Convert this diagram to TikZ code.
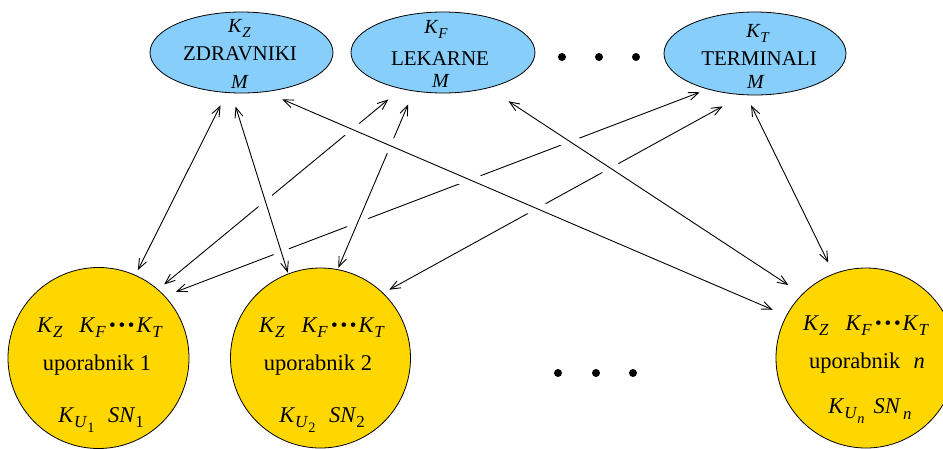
\documentclass[tikz,border=0pt]{standalone}
\usepackage{fontspec}
\setmainfont{Liberation Serif}
\usepackage{graphicx}
\usetikzlibrary{shapes.geometric,arrows.meta}
\pgfdeclarelayer{bg}
\pgfsetlayers{bg,main}
\definecolor{skyb}{RGB}{135,206,250}
\definecolor{goldy}{RGB}{255,215,0}
\newcommand{\ks}[1]{\textit{K}\raisebox{-0.26em}{\scalebox{0.75}{\textit{#1}}}}
\newcommand{\kus}[1]{\textit{K}\raisebox{-0.26em}{\scalebox{0.75}{\textit{U}\raisebox{-0.3em}{\scalebox{0.85}{#1}}}}}
\newcommand{\bul}{\raisebox{0.04em}{\makebox[0.42em]{\scalebox{0.85}{\textbullet}}}}
\newcommand{\kdots}{\ks{Z}\hspace{0.75em}\ks{F}\hspace{0.08em}\bul\bul\bul\hspace{0.02em}\ks{T}}
\begin{document}
\begin{tikzpicture}[x=1pt,y=-1pt,
  grp/.style={ellipse, draw, fill=skyb, line width=0.8pt, minimum width=183pt, minimum height=81pt, inner sep=0pt},
  usr/.style={circle, draw, fill=goldy, line width=0.8pt, minimum size=181pt, inner sep=0pt},
  utxt/.style={anchor=base, inner sep=0pt, font=\fontsize{22.5}{27}\selectfont},
  gname/.style={anchor=base, inner sep=0pt, font=\fontsize{21}{25}\selectfont},
  gsym/.style={anchor=base, inner sep=0pt, font=\fontsize{20}{24}\selectfont},
  bigdot/.style={circle, fill=black, minimum size=8pt, inner sep=0pt},
  link/.style={{Straight Barb[length=10pt,width=8pt]}-{Straight Barb[length=10pt,width=8pt]}, line width=0.9pt},
  halo/.style={preaction={draw=white, line width=16pt, -}}
]
\useasboundingbox (0,0) rectangle (943,448);
\clip (0,0) rectangle (943,448);

% top groups
\node[grp] (zd) at (241.5,52.5) {};
\node[grp, minimum width=184pt] (lk) at (443,52.5) {};
\node[grp, minimum width=182pt, minimum height=83pt] (tm) at (755,53.5) {};

\node[gsym] (zdk) at (239.5,32) {\ks{Z}};
\node[gname] (zdn) at (240,60) {ZDRAVNIKI};
\node[gsym] (zdm) at (240,88) {\textit{M}};
\node[gsym] (lkk) at (436,33) {\ks{F}};
\node[gname] (lkn) at (440,65) {LEKARNE};
\node[gsym] (lkm) at (441,87) {\textit{M}};
\node[gsym] (tmk) at (758,37) {\ks{T}};
\node[gname] (tmn) at (759,65) {TERMINALI};
\node[gsym] (tmm) at (756,88) {\textit{M}};

\node[bigdot] (td1) at (562,57) {};
\node[bigdot] (td2) at (599,57) {};
\node[bigdot] (td3) at (636,57) {};

% users
\node[usr] (u1) at (98.5,358) {};
\node[usr, minimum size=180pt] (u2) at (320.5,358) {};
\node[usr, minimum size=180pt] (un) at (866,358) {};

\node[utxt] (u1a) at (100,332) {\kdots};
\node[utxt] (u1b) at (97,370) {uporabnik 1};
\node[utxt] (u1c) at (101,422) {\kus{1}\hspace{0.6em}\textit{SN}\raisebox{-0.26em}{\scalebox{0.75}{1}}};
\node[utxt] (u2a) at (322,332) {\kdots};
\node[utxt] (u2b) at (318,370) {uporabnik 2};
\node[utxt] (u2c) at (322,422) {\kus{2}\hspace{0.6em}\textit{SN}\raisebox{-0.26em}{\scalebox{0.75}{2}}};
\node[utxt] (una) at (866,330) {\kdots};
\node[utxt] (unb) at (867,368) {uporabnik\hspace{0.6em}\textit{n}};
\node[utxt] (unc) at (870,413) {\kus{\textit{n}}\hspace{0.4em}\textit{SN}\hspace{0.1em}\raisebox{-0.3em}{\scalebox{0.75}{\textit{n}}}};

\node[bigdot] (bd1) at (558,373) {};
\node[bigdot] (bd2) at (596,373) {};
\node[bigdot] (bd3) at (633,373) {};

% connectors (under the nodes)
\begin{pgfonlayer}{bg}
\draw[link, shorten <=8.4pt, shorten >=11.7pt] (tm.-143.0) -- (u1.43.3);
\draw[link, shorten <=23.5pt, shorten >=6.8pt] (tm.-106.8) -- (u2.46.0);
\draw[link, shorten <=16.5pt, shorten >=7.8pt] (lk.-139.5) -- (u1.49.7);
\draw[link, halo, shorten <=14.3pt, shorten >=1.5pt] (lk.-127.3) -- (u2.79.8);
\draw[link, halo, shorten <=14pt, shorten >=1pt] (zd.-104.9) -- (u2.111.0);
\draw[link, halo, shorten <=18.6pt, shorten >=14.7pt] (zd.-59.2) -- (un.152.0);
\draw[link, halo, shorten <=23.9pt, shorten >=16.4pt] (lk.-38.1) -- (un.135.6);
\draw[link, shorten <=14pt, shorten >=5.5pt] (zd.-110.8) -- (u1.66.6);
\draw[link, shorten <=11.3pt, shorten >=12.3pt] (tm.-102.3) -- (un.111.2);
\end{pgfonlayer}
\end{tikzpicture}
\end{document}
